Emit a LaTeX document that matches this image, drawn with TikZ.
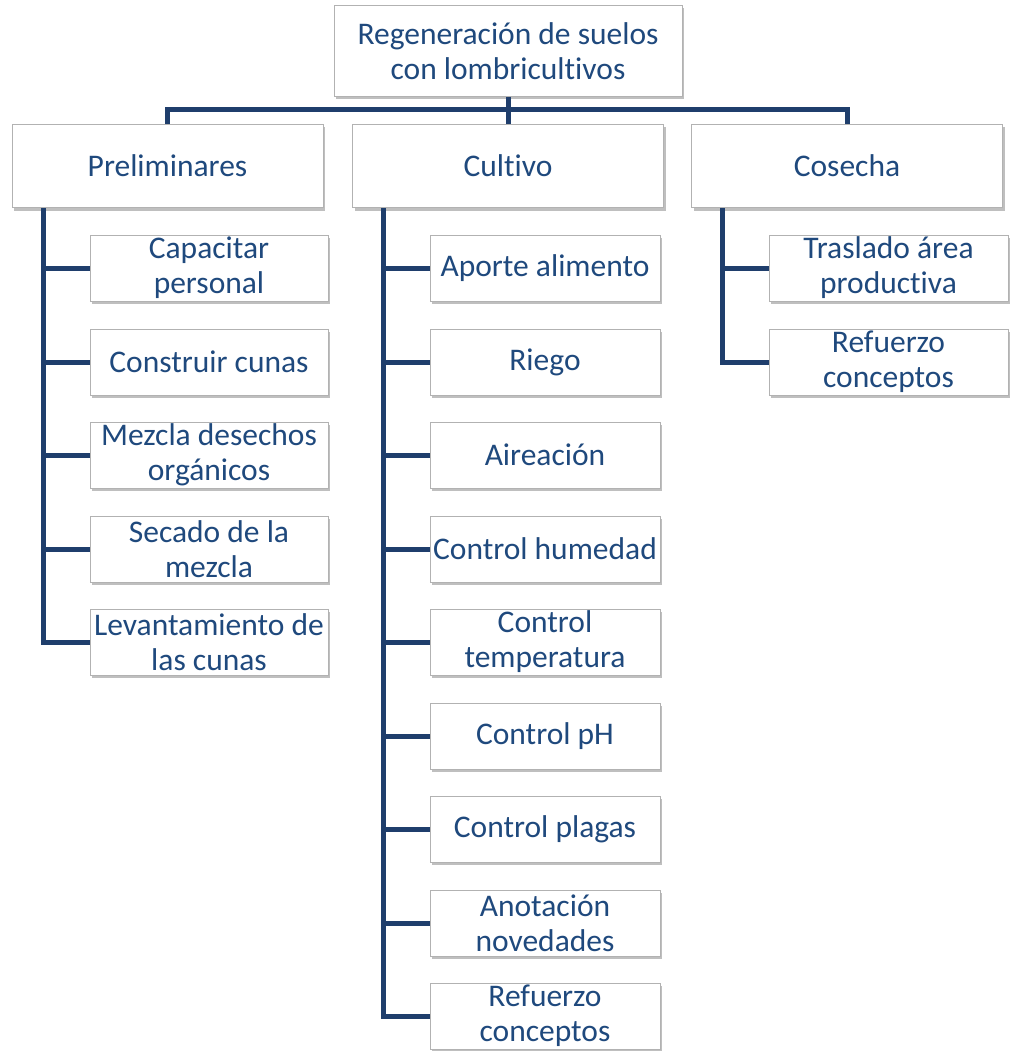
\documentclass[tikz,border=0pt]{standalone}
\usepackage{fontspec}
\setmainfont{Carlito}[Ligatures={NoCommon,NoRare,NoContextual}]
\usepackage{tikz}
\usetikzlibrary{shadows}

\definecolor{txtblue}{HTML}{1F497D}
\definecolor{linkblue}{HTML}{1F3E6C}

\tikzset{
    box/.style={draw=gray!60, fill=white, line width=1pt, inner sep=0pt, align=center, text=txtblue,
        font=\fontsize{31.5}{35}\selectfont,
        drop shadow={shadow xshift=2pt, shadow yshift=-3pt, fill=black, opacity=0.25}},
    topbox/.style={box, minimum width=311pt, minimum height=83pt},
    leaf/.style={box, minimum height=66pt},
    link/.style={linkblue, line width=5pt},
}

\begin{document}
\begin{tikzpicture}[x=1pt, y=-1pt]
    \useasboundingbox (0,0) rectangle (1011,1051);

    \node[box, minimum width=348pt, minimum height=91pt] (root) at (508, 51) {Regeneración de suelos\\con lombricultivos};

    \node[topbox] (pre) at (167.5, 166) {Preliminares};
    \node[topbox] (cul) at (508, 166) {Cultivo};
    \node[topbox] (cos) at (847, 166) {Cosecha};

    % preliminares
    \node[leaf, minimum width=238pt] (p1) at (209, 268) {Capacitar\\personal};
    \node[leaf, minimum width=238pt] (p2) at (209, 362) {Construir cunas};
    \node[leaf, minimum width=238pt] (p3) at (209, 455) {Mezcla desechos\\orgánicos};
    \node[leaf, minimum width=238pt] (p4) at (209, 549) {Secado de la\\mezcla};
    \node[leaf, minimum width=238pt] (p5) at (209, 642) {Levantamiento de\\las cunas};

    % cultivo
    \node[leaf, minimum width=230pt] (c1) at (545, 268) {Aporte alimento};
    \node[leaf, minimum width=230pt] (c2) at (545, 362) {Riego};
    \node[leaf, minimum width=230pt] (c3) at (545, 455) {Aireación};
    \node[leaf, minimum width=230pt] (c4) at (545, 549) {Control humedad};
    \node[leaf, minimum width=230pt] (c5) at (545, 642) {Control\\temperatura};
    \node[leaf, minimum width=230pt] (c6) at (545, 736) {Control pH};
    \node[leaf, minimum width=230pt] (c7) at (545, 829) {Control plagas};
    \node[leaf, minimum width=230pt] (c8) at (545, 923) {Anotación\\novedades};
    \node[leaf, minimum width=230pt] (c9) at (545, 1016) {Refuerzo\\conceptos};

    % cosecha
    \node[leaf, minimum width=239pt] (s1) at (888.5, 268) {Traslado área\\productiva};
    \node[leaf, minimum width=239pt] (s2) at (888.5, 362) {Refuerzo\\conceptos};

    % connectors
    \coordinate (bar) at (508, 110);
    \coordinate (pspine) at (43, 208);
    \coordinate (cspine) at (383, 208);
    \coordinate (sspine) at (722, 208);

    \draw[link] (root.south) -- (cul.north);
    \draw[link] (pre.north) |- (bar) -| (cos.north);

    \draw[link] (pspine) |- (p5.west);
    \draw[link] (p1.west) -- (p1.west -| pspine);
    \draw[link] (p2.west) -- (p2.west -| pspine);
    \draw[link] (p3.west) -- (p3.west -| pspine);
    \draw[link] (p4.west) -- (p4.west -| pspine);

    \draw[link] (cspine) |- (c9.west);
    \draw[link] (c1.west) -- (c1.west -| cspine);
    \draw[link] (c2.west) -- (c2.west -| cspine);
    \draw[link] (c3.west) -- (c3.west -| cspine);
    \draw[link] (c4.west) -- (c4.west -| cspine);
    \draw[link] (c5.west) -- (c5.west -| cspine);
    \draw[link] (c6.west) -- (c6.west -| cspine);
    \draw[link] (c7.west) -- (c7.west -| cspine);
    \draw[link] (c8.west) -- (c8.west -| cspine);

    \draw[link] (sspine) |- (s2.west);
    \draw[link] (s1.west) -- (s1.west -| sspine);
\end{tikzpicture}
\end{document}
